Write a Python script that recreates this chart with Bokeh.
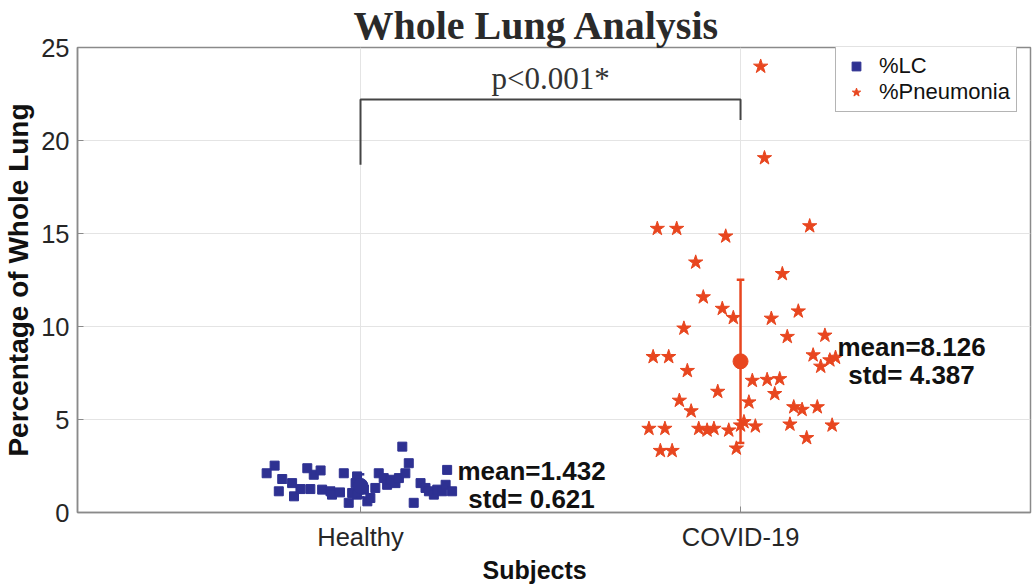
from bokeh.plotting import figure
from bokeh.models import Label, Legend, LegendItem, FixedTicker, Range1d, Title
from bokeh.embed import file_html
from bokeh.resources import INLINE

# ---------------- data ----------------
categories = ["Healthy", "COVID-19"]
cat_pos = [1, 2]

healthy_x = [0.774, 0.753, 0.794, 0.785, 0.820, 0.825, 0.842, 0.860, 0.877, 0.895,
             0.868, 0.899, 0.921, 0.925, 0.946, 0.956, 0.969, 0.978, 0.991, 0.987,
             1.000, 0.996, 1.009, 0.991, 1.018, 1.026, 1.039, 1.048, 1.061, 1.070,
             1.079, 1.092, 1.101, 1.118, 1.127, 1.110, 1.140, 1.158, 1.171, 1.180,
             1.193, 1.202, 1.215, 1.224, 1.241, 1.228]
healthy_y = [2.52, 2.11, 1.80, 1.14, 1.58, 0.87, 1.26, 2.38, 2.03, 2.26,
             1.26, 1.23, 1.14, 0.96, 1.08, 2.11, 0.52, 1.05, 1.94, 1.58,
             1.49, 1.23, 1.23, 0.96, 0.60, 0.78, 1.32, 2.11, 1.85, 1.49,
             1.76, 1.58, 1.85, 2.11, 2.65, 3.54, 0.52, 1.58, 1.32, 1.14,
             0.96, 1.23, 1.14, 1.49, 1.14, 2.29]

covid_x = [1.781, 1.832, 1.961, 2.182, 1.882, 2.110, 1.902, 1.952, 1.981, 2.081,
           2.152, 1.851, 2.123, 2.222, 1.770, 1.811, 2.191, 2.211, 2.235, 2.250,
           1.860, 2.031, 2.070, 2.103, 1.940, 2.090, 1.839, 2.022, 1.870, 2.140,
           2.162, 2.202, 1.759, 1.801, 1.890, 1.912, 1.930, 1.969, 2.009, 2.000,
           2.039, 2.130, 2.241, 2.174, 1.789, 1.820, 1.989, 2.053, 2.063]
covid_y = [15.26, 15.26, 14.85, 15.40, 13.45, 12.83, 11.58, 10.96, 10.47, 10.43,
           10.82, 9.90, 9.45, 9.52, 8.37, 8.37, 8.46, 7.85, 8.19, 8.33,
           7.62, 7.09, 7.14, 7.18, 6.50, 6.38, 6.02, 5.93, 5.45, 5.67,
           5.53, 5.67, 4.51, 4.51, 4.51, 4.42, 4.51, 4.42, 4.87, 4.69,
           4.64, 4.74, 4.69, 4.01, 3.32, 3.32, 3.45, 23.98, 19.06]

means = [1.432, 8.126]
stds = [0.621, 4.387]
mean_texts = ["mean=1.432", "mean=8.126"]
std_texts = ["std= 0.621", "std= 4.387"]

y_ticks = [0, 5, 10, 15, 20, 25]

# significance bracket (data units)
bracket_top = 22.2
bracket_left_bottom = 18.7
bracket_right_bottom = 21.1
p_text = "p<0.001*"

BLUE = "#2E3192"
RED = "#E8461F"
SANS = "Liberation Sans"
SERIF = "Liberation Serif"

# ---------------- figure ----------------
p = figure(width=1033, height=584,
           x_range=Range1d(0.2553, 2.763), y_range=Range1d(0, 25),
           output_backend="svg", toolbar_location=None,
           min_border_left=77, min_border_right=3,
           min_border_top=45, min_border_bottom=72)
p.background_fill_color = "white"
p.border_fill_color = "white"
p.outline_line_color = "#8a8a8a"
p.outline_line_width = 1.5

p.title.text = "Whole Lung Analysis"
p.title.text_font = SERIF
p.title.text_font_style = "bold"
p.title.text_font_size = "40px"
p.title.text_color = "#2a2a2a"
p.title.align = "left"
p.title.offset = 276
p.title.standoff = 0

# axes
p.xaxis.ticker = FixedTicker(ticks=cat_pos)
p.xaxis.major_label_overrides = {cp: c for cp, c in zip(cat_pos, categories)}
p.yaxis.ticker = FixedTicker(ticks=y_ticks)
p.yaxis.axis_label = "Percentage of Whole Lung"
for ax in (p.xaxis[0], p.yaxis[0]):
    ax.axis_line_color = "#8a8a8a"
    ax.axis_line_width = 1.5
    ax.major_tick_line_color = "#8a8a8a"
    ax.major_tick_in = 6
    ax.major_tick_out = 0
    ax.minor_tick_line_color = None
    ax.major_label_text_font = SANS
    ax.major_label_text_font_size = "25.5px"
    ax.major_label_text_color = "#262626"
    ax.axis_label_text_font = SANS
    ax.axis_label_text_font_style = "bold"
    ax.axis_label_text_color = "#111111"
p.yaxis.axis_label_text_font_size = "28px"
p.xaxis.major_label_standoff = 10
p.yaxis.major_label_standoff = 8
p.yaxis.axis_label_standoff = 4

# x-axis label as a below-panel title (lets it sit where the original is)
xlabel = Title(text="Subjects", align="left", offset=405, standoff=0,
               text_font=SANS, text_font_style="bold", text_font_size="25px",
               text_color="#111111")
p.add_layout(xlabel, "below")

p.xgrid.ticker = FixedTicker(ticks=cat_pos)
p.ygrid.ticker = FixedTicker(ticks=y_ticks)
p.xgrid.grid_line_color = "#e4e4e4"
p.ygrid.grid_line_color = "#e4e4e4"

# scatter points
r_lc = p.scatter(healthy_x, healthy_y, marker="square", size=9,
                 fill_color=BLUE, line_color=BLUE)
r_pn = p.scatter(covid_x, covid_y, marker="star", size=15,
                 fill_color=RED, line_color=RED)

# mean +/- std error bars
colors = [BLUE, RED]
for cp, m, s, c in zip(cat_pos, means, stds, colors):
    p.segment(x0=[cp], y0=[m - s], x1=[cp], y1=[m + s], line_color=c, line_width=2.5)
    p.segment(x0=[cp - 0.01, cp - 0.01], y0=[m - s, m + s],
              x1=[cp + 0.01, cp + 0.01], y1=[m - s, m + s], line_color=c, line_width=2.5)
    p.scatter([cp], [m], marker="circle", size=15, fill_color=c, line_color=c)

# text annotations
for cp, m, mt, st in zip(cat_pos, means, mean_texts, std_texts):
    p.add_layout(Label(x=cp + 0.45, y=m, text=mt, y_offset=14.5,
                       text_align="center", text_baseline="middle",
                       text_font=SANS, text_font_style="bold",
                       text_font_size="26px", text_color="#111111"))
    p.add_layout(Label(x=cp + 0.45, y=m, text=st, y_offset=-13.5,
                       text_align="center", text_baseline="middle",
                       text_font=SANS, text_font_style="bold",
                       text_font_size="26px", text_color="#111111"))

# significance bracket
p.line(x=[cat_pos[0], cat_pos[0], cat_pos[1], cat_pos[1]],
       y=[bracket_left_bottom, bracket_top, bracket_top, bracket_right_bottom],
       line_color="#444444", line_width=2)
p.add_layout(Label(x=(cat_pos[0] + cat_pos[1]) / 2, y=bracket_top, text=p_text,
                   y_offset=4, text_align="center", text_baseline="bottom",
                   text_font=SERIF, text_font_size="31px", text_color="#333333"))

# legend
legend = Legend(items=[LegendItem(label="%LC", renderers=[r_lc]),
                       LegendItem(label="%Pneumonia", renderers=[r_pn])],
                location=(758, 400))
legend.label_text_font = SANS
legend.label_text_font_size = "22px"
legend.label_text_color = "#111111"
legend.label_height = 21
legend.glyph_height = 22
legend.glyph_width = 28
legend.label_standoff = 9
legend.padding = 6
legend.spacing = -3
legend.margin = 0
legend.border_line_color = "#6a6a6a"
legend.border_line_width = 1.2
legend.background_fill_color = "white"
legend.background_fill_alpha = 1
p.add_layout(legend)

open("out.html", "w").write(file_html(p, INLINE))
